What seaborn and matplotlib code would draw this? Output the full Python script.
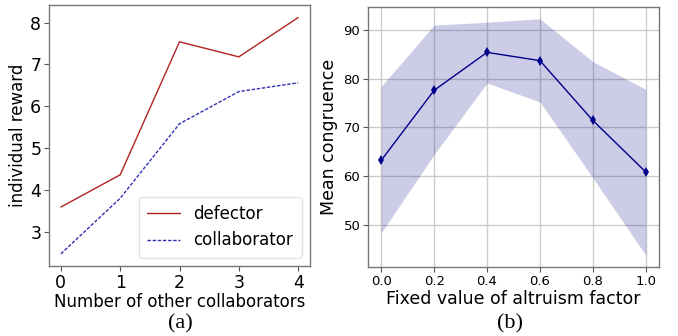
import matplotlib
matplotlib.use("Agg")
import matplotlib.pyplot as plt
import seaborn as sns
import pandas as pd
import numpy as np

# Panel (a)
n_collab = [0, 1, 2, 3, 4]
defector = [3.59, 4.36, 7.54, 7.18, 8.12]
collaborator = [2.47, 3.80, 5.58, 6.35, 6.56]

# Panel (b)
altruism = [0.0, 0.2, 0.4, 0.6, 0.8, 1.0]
congruence_mean = [63.2, 77.6, 85.4, 83.7, 71.4, 60.8]
congruence_upper = [78.4, 91.0, 91.6, 92.3, 83.5, 77.8]
congruence_lower = [48.3, 64.4, 79.1, 75.2, 59.6, 43.7]

sns.set_style("white")
plt.rcParams['font.family'] = ['DejaVu Sans']
plt.rcParams['text.color'] = 'black'
plt.rcParams['axes.labelcolor'] = 'black'
plt.rcParams['xtick.color'] = '#555555'
plt.rcParams['ytick.color'] = '#555555'
plt.rcParams['xtick.labelcolor'] = 'black'
plt.rcParams['ytick.labelcolor'] = 'black'

fig = plt.figure(figsize=(6.78, 3.36), dpi=100)
W, H = 678, 336
axA = fig.add_axes([49 / W, (H - 266) / H, 261 / W, 261 / H])
axB = fig.add_axes([368 / W, (H - 267) / H, 291 / W, 260 / H])

dfA = pd.DataFrame({"x": n_collab + n_collab,
                    "y": defector + collaborator,
                    "role": ["defector"] * 5 + ["collaborator"] * 5})
sns.lineplot(data=dfA[dfA.role == "defector"], x="x", y="y", ax=axA,
             color="#b22222", lw=1.0, label="defector")
sns.lineplot(data=dfA[dfA.role == "collaborator"], x="x", y="y", ax=axA,
             color="#3030b0", lw=1.0, linestyle=(0, (2.5, 1.2)), label="collaborator")
axA.set_xlim(-0.2, 4.2)
axA.set_ylim(2.18, 8.42)
axA.set_xticks(n_collab)
axA.set_yticks([3, 4, 5, 6, 7, 8])
axA.tick_params(labelsize=12.5, length=3.5, width=0.8, bottom=True, left=True, pad=2)
axA.set_xlabel("Number of other collaborators", fontsize=12, labelpad=1)
axA.set_ylabel("individual reward", fontsize=12, labelpad=2)
for s in axA.spines.values():
    s.set_color("#777777"); s.set_linewidth(1.0)
axA.legend(loc="lower right", fontsize=12, frameon=True, fancybox=True,
           framealpha=0.8, edgecolor="#dddddd", handlelength=2.0, borderpad=0.5)

dfB = pd.DataFrame({"x": altruism, "m": congruence_mean,
                    "lo": congruence_lower, "hi": congruence_upper})
axB.fill_between(dfB.x, dfB.lo, dfB.hi, color="#00008b", alpha=0.2, lw=0)
sns.lineplot(data=dfB, x="x", y="m", ax=axB, color="#00008b", lw=1.0,
             marker="d", markersize=5, markeredgewidth=0)
axB.set_xticks(altruism)
axB.set_yticks([50, 60, 70, 80, 90])
axB.grid(True, color="#cccccc", lw=1.0)
axB.set_axisbelow(True)
axB.tick_params(labelsize=9.5, length=3.5, width=0.8, bottom=True, left=True, pad=2)
axB.set_xlabel("Fixed value of altruism factor", fontsize=12.5, labelpad=2)
axB.set_ylabel("Mean congruence", fontsize=12.5, labelpad=4)
for s in axB.spines.values():
    s.set_color("#777777"); s.set_linewidth(1.0)

fig.text(180 / W, 1 - 324 / H, "(a)", family="Liberation Serif", fontsize=16,
         ha="center", va="center")
fig.text(510 / W, 1 - 324 / H, "(b)", family="Liberation Serif", fontsize=16,
         ha="center", va="center")

fig.savefig("out.png", dpi=100)
